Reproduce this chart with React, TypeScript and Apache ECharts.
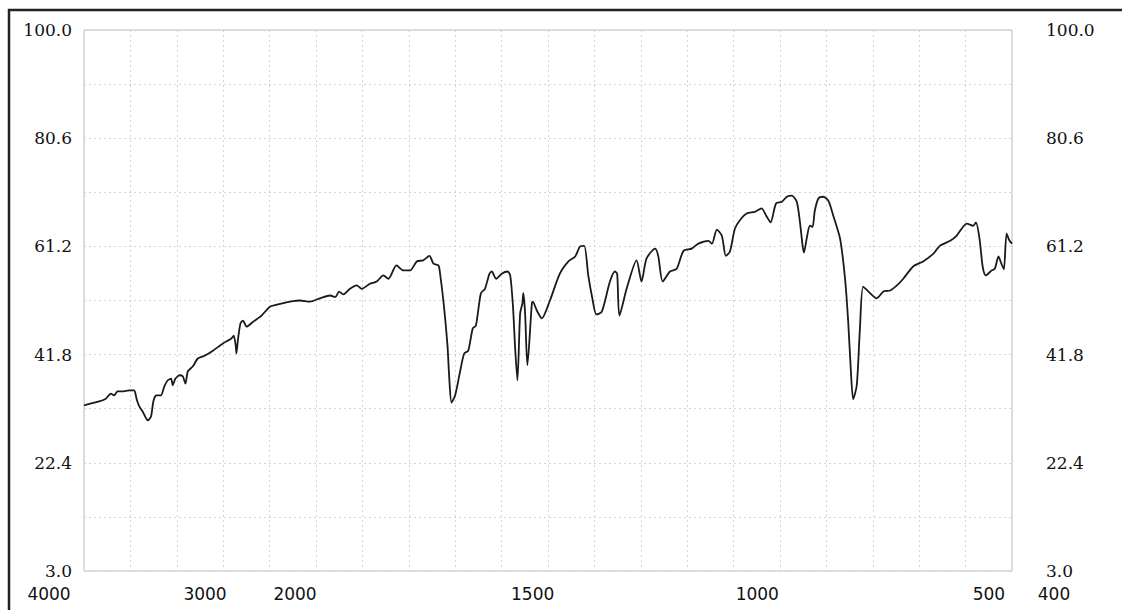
import React, { useEffect, useRef } from "react";
import * as echarts from "echarts";

// ---- Data (wavenumber cm-1, %T) ----
// 4000–2000 cm-1 region (compressed scale)
const wnHigh = [4000, 3919, 3854, 3788, 3740, 3707, 3675, 3626, 3561, 3512, 3490, 3463, 3431, 3398, 3382, 3349, 3327, 3300, 3252, 3220, 3187, 3154, 3139, 3112, 3073, 3041, 3015, 2992, 2943, 2895, 2829, 2748, 2651, 2569, 2546, 2527, 2520, 2504, 2481, 2456, 2422, 2358, 2276, 2195, 2098, 2000];
const tHigh = [32.7, 33.1, 33.4, 33.9, 34.8, 34.5, 35.2, 35.2, 35.4, 35.4, 33.9, 32.5, 31.6, 30.4, 30.0, 30.7, 33.4, 34.5, 34.5, 36.1, 37.2, 37.5, 36.3, 37.5, 38.1, 37.9, 36.6, 38.8, 39.7, 41.1, 41.6, 42.5, 43.8, 44.7, 45.2, 43.4, 42.0, 44.7, 47.4, 47.9, 46.8, 47.7, 48.8, 50.4, 50.9, 51.3];

// 2000–400 cm-1 region
const wnLow = [2000, 1978, 1956, 1934, 1911, 1900, 1891, 1882, 1867, 1852, 1841, 1823, 1808, 1793, 1782, 1764, 1749, 1734, 1719, 1705, 1691, 1682, 1671, 1668, 1659, 1651, 1647, 1642, 1634, 1623, 1614, 1605, 1595, 1588, 1577, 1568, 1558, 1553, 1543, 1531, 1518, 1512, 1506, 1501, 1496, 1490, 1485, 1483, 1479, 1474, 1464, 1462, 1453, 1442, 1424, 1402, 1383, 1368, 1357, 1348, 1339, 1330, 1321, 1309, 1291, 1280, 1275, 1270, 1254, 1232, 1221, 1210, 1191, 1184, 1174, 1158, 1143, 1128, 1110, 1095, 1073, 1065, 1054, 1043, 1034, 1025, 1014, 1003, 988, 970, 955, 944, 935, 923, 910, 899, 888, 877, 870, 864, 861, 855, 848, 842, 837, 829, 818, 807, 796, 781, 770, 763, 757, 752, 744, 737, 730, 718, 700, 685, 670, 655, 641, 619, 597, 574, 560, 537, 523, 500, 486, 480, 472, 465, 458, 445, 438, 430, 423, 418, 412, 406, 400];
const tLow = [51.3, 51.5, 51.3, 51.9, 52.4, 52.1, 53.1, 52.6, 53.6, 54.2, 53.6, 54.5, 54.9, 56.0, 55.4, 57.8, 56.9, 56.9, 58.5, 58.7, 59.5, 58.1, 57.8, 56.7, 50.6, 43.4, 37.5, 33.2, 34.5, 38.8, 42.0, 42.5, 46.5, 47.0, 52.8, 53.6, 56.3, 56.7, 55.4, 56.3, 56.7, 56.0, 50.6, 42.9, 37.2, 49.2, 51.0, 52.8, 49.2, 39.9, 51.0, 51.3, 49.7, 48.3, 51.5, 56.3, 58.5, 59.4, 61.2, 61.3, 56.0, 51.9, 49.0, 49.5, 54.9, 56.7, 56.3, 48.8, 53.6, 58.7, 54.9, 59.0, 60.8, 59.5, 54.9, 56.7, 57.2, 60.4, 60.8, 61.7, 62.2, 61.7, 64.2, 63.1, 59.5, 60.3, 64.4, 65.9, 67.1, 67.4, 68.0, 66.6, 65.5, 68.9, 69.2, 70.1, 70.3, 69.2, 65.6, 61.3, 60.1, 62.6, 64.9, 64.7, 67.6, 69.8, 70.1, 69.4, 66.7, 62.6, 55.4, 47.7, 38.8, 33.8, 36.3, 46.5, 54.0, 53.1, 51.9, 53.1, 53.3, 54.2, 55.4, 57.6, 58.5, 59.9, 61.3, 62.2, 63.1, 65.3, 64.9, 65.5, 62.6, 57.6, 56.0, 56.9, 57.2, 59.4, 58.0, 57.1, 63.5, 62.3, 61.7];

// Tick labels
const xTicksHigh = [4000, 3000];
const xTicksLow = [2000, 1500, 1000, 500, 400];
const yTicks = [3.0, 22.4, 41.8, 61.2, 80.6, 100.0];

// Label horizontal shifts (px) as printed on the original sheet
const xLabelShift: Record<number, number> = { 4000: -35, 3000: 18, 2000: 5, 1500: 17, 1000: 16, 500: 22, 400: 42 };

const xFont = { fontFamily: "DejaVu Sans", fontSize: 17, color: "#111" };
const yFont = { fontFamily: "DejaVu Serif", fontSize: 17, color: "#111" };

function buildRich() {
  const rich: Record<string, any> = {};
  Object.keys(xLabelShift).forEach((k) => {
    const s = xLabelShift[Number(k)];
    rich["t" + k] = {
      ...xFont,
      padding: s >= 0 ? [0, 0, 0, 2 * s] : [0, -2 * s, 0, 0],
    };
  });
  return rich;
}

export default function App() {
  const ref = useRef<HTMLDivElement>(null);
  useEffect(() => {
    if (!ref.current) return;
    const chart = echarts.init(ref.current, undefined, { renderer: "svg" });
    const rich = buildRich();
    const xLabel = (ticks: number[]) => ({
      show: true,
      customValues: ticks,
      margin: 14,
      ...xFont,
      formatter: (v: number) => `{t${v}|${v}}`,
      rich,
    });
    const paperLine = { show: true, lineStyle: { color: "#d4d4d4", type: [2, 3] as any, width: 1 } };
    const hidden = { axisLine: { show: false }, axisTick: { show: false }, splitLine: { show: false } };

    chart.setOption({
      animation: false,
      backgroundColor: "#ffffff",
      grid: [
        { left: 84, top: 30, width: 928, height: 541, show: true, borderColor: "#bdbdbd", borderWidth: 1 },
        { left: 84, top: 30, width: 206, height: 541 },
        { left: 290, top: 30, width: 722, height: 541 },
      ],
      xAxis: [
        { gridIndex: 0, type: "value", min: 0, max: 20, interval: 1, axisLabel: { show: false }, axisLine: { show: false }, axisTick: { show: false }, splitLine: paperLine },
        { gridIndex: 1, type: "value", min: 2000, max: 4000, inverse: true, ...hidden, axisLabel: xLabel(xTicksHigh) },
        { gridIndex: 2, type: "value", min: 400, max: 2000, inverse: true, ...hidden, axisLabel: xLabel(xTicksLow) },
      ],
      yAxis: [
        { gridIndex: 0, type: "value", min: 0, max: 10, interval: 1, axisLabel: { show: false }, axisLine: { show: false }, axisTick: { show: false }, splitLine: paperLine },
        {
          gridIndex: 1, type: "value", min: 3, max: 100, position: "left", ...hidden,
          axisLabel: { customValues: yTicks, margin: 12, ...yFont, formatter: (v: number) => v.toFixed(1) },
        },
        {
          gridIndex: 2, type: "value", min: 3, max: 100, position: "right", ...hidden,
          axisLabel: { customValues: yTicks, margin: 34, ...yFont, padding: [0, 0, 8, 0], formatter: (v: number) => v.toFixed(1) },
        },
      ],
      series: [
        {
          type: "line", xAxisIndex: 1, yAxisIndex: 1, showSymbol: false, smooth: 0.2,
          lineStyle: { color: "#1a1a1a", width: 1.8 },
          data: wnHigh.map((w, i) => [w, tHigh[i]]),
        },
        {
          type: "line", xAxisIndex: 2, yAxisIndex: 2, showSymbol: false, smooth: 0.25,
          lineStyle: { color: "#1a1a1a", width: 1.8 },
          data: wnLow.map((w, i) => [w, tLow[i]]),
        },
      ],
      graphic: [
        { type: "polyline", shape: { points: [[9, 620], [9, 10], [1130, 10]] }, style: { stroke: "#222", lineWidth: 2.5, fill: null } },
      ],
    });
    return () => chart.dispose();
  }, []);
  return <div ref={ref} style={{ position: "fixed", left: 0, top: 0, width: 1122, height: 610, background: "#fff" }} />;
}
